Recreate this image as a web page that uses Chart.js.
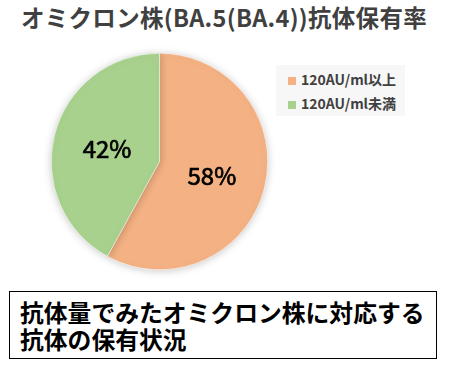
<!DOCTYPE html>
<html><head><meta charset="utf-8">
<script src="https://cdn.jsdelivr.net/npm/chart.js@4"></script>
<style>
html,body{margin:0;padding:0;background:#fff;}
#wrap{position:relative;width:452px;height:368px;overflow:hidden;font-family:"Noto Sans CJK JP","Noto Sans",sans-serif;}
#title{position:absolute;left:0;top:2px;width:448px;text-align:center;font-size:23.5px;font-weight:bold;color:#404040;line-height:30px;white-space:nowrap;letter-spacing:0.3px;}
#chartBox{position:absolute;left:31px;top:33px;width:257px;height:257px;}
#legend{position:absolute;left:276px;top:65px;width:129px;height:51px;background:#f7f7f7;}
.li{position:absolute;left:12px;height:20px;line-height:20px;font-size:14px;font-weight:bold;color:#404040;white-space:nowrap;}
.sw{display:inline-block;width:8px;height:8px;margin-right:5px;vertical-align:0px;}
#note{position:absolute;left:9px;top:291px;width:428px;height:68px;border:1.5px solid #000;box-sizing:border-box;}
#note div{position:absolute;left:10px;font-size:23.8px;font-weight:bold;color:#000;line-height:27px;white-space:nowrap;}
</style></head>
<body><div id="wrap">
<div id="title">オミクロン株(BA.5(BA.4))抗体保有率</div>
<div id="chartBox"><canvas id="c"></canvas></div>
<div id="legend"></div>
<div id="note"><div style="top:6px">抗体量でみたオミクロン株に対応する</div><div style="top:33px">抗体の保有状況</div></div>
</div>
<script>
const categories = ["120AU/ml以上", "120AU/ml未満"];
const values = [58, 42];
const valueLabels = ["58%", "42%"];
const colors = ["#F4B183", "#A9D18E"];

// HTML legend built from data
const lg = document.getElementById('legend');
categories.forEach((c, i) => {
  const d = document.createElement('div');
  d.className = 'li';
  d.style.top = (4 + i * 24) + 'px';
  d.innerHTML = '<span class="sw" style="background:' + colors[i] + '"></span>' + c;
  lg.appendChild(d);
});

const shadowPlugin = {
  id: 'shadow',
  beforeDatasetsDraw(chart) {
    const ctx = chart.ctx;
    ctx.save();
    ctx.shadowColor = 'rgba(0,0,0,0.22)';
    ctx.shadowBlur = 9;
    ctx.shadowOffsetX = 0;
    ctx.shadowOffsetY = 1;
  },
  afterDatasetsDraw(chart) {
    chart.ctx.restore();
  }
};

const labelPlugin = {
  id: 'sliceLabels',
  afterDatasetsDraw(chart) {
    const ctx = chart.ctx;
    const meta = chart.getDatasetMeta(0);
    ctx.save();
    ctx.fillStyle = '#000';
    ctx.strokeStyle = '#000';
    ctx.lineWidth = 0.7;
    ctx.font = '24px "Noto Sans CJK JP", "Noto Sans", sans-serif';
    ctx.textAlign = 'center';
    ctx.textBaseline = 'middle';
    meta.data.forEach((arc, i) => {
      const p = arc.tooltipPosition();
      ctx.fillText(valueLabels[i], p.x, p.y + 1);
      ctx.strokeText(valueLabels[i], p.x, p.y + 1);
    });
    ctx.restore();
  }
};

new Chart(document.getElementById('c'), {
  type: 'pie',
  data: {
    labels: categories,
    datasets: [{
      data: values,
      backgroundColor: colors,
      borderColor: '#ffffff',
      borderWidth: 0.5
    }]
  },
  options: {
    responsive: true,
    maintainAspectRatio: false,
    animation: false,
    layout: { padding: 20 },
    plugins: { legend: { display: false }, tooltip: { enabled: false }, title: { display: false } }
  },
  plugins: [shadowPlugin, labelPlugin]
});
</script>
</body></html>
